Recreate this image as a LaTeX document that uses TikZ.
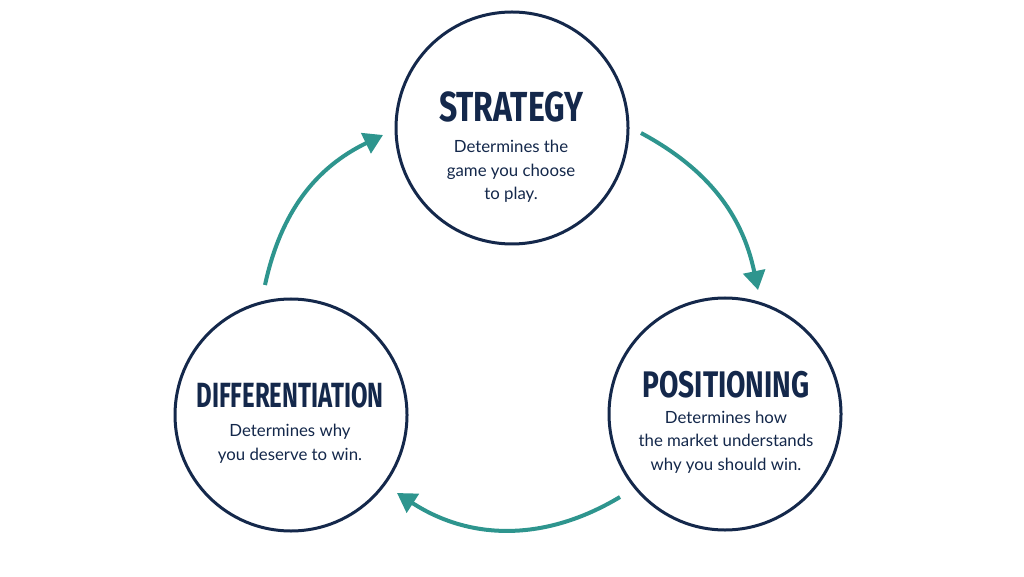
\documentclass[tikz,border=0pt]{standalone}
\usepackage{fontspec}
\setmainfont{Lato}
\newfontfamily\titlefont{Fira Sans}[FakeStretch=0.76]
\usetikzlibrary{arrows.meta,calc}

\definecolor{navy}{HTML}{14284B}
\definecolor{cycleteal}{HTML}{2E958E}

\tikzset{
    stage/.style={circle, draw=navy, line width=3pt, minimum size=232pt, inner sep=0pt},
    stagetitle/.style={text=navy, font=\titlefont\bfseries\fontsize{#1}{#1}\selectfont, anchor=base, inner sep=0pt},
    stagetitle/.default=37,
    blurb/.style={text=navy, font=\fontsize{16.8}{23.5}\selectfont, align=center, anchor=base, inner sep=0pt},
    flow/.style={draw=cycleteal, line width=4pt, -{Triangle[length=19pt,width=22pt]}}
}

\begin{document}
\begin{tikzpicture}[x=1pt, y=1pt]
        \fill[white] (0,0) rectangle (1024,576);
        \useasboundingbox (0,0) rectangle (1024,576);

        % the three stages
        \node (strat) [stage] at (512,448) {};
        \node (pos) [stage] at (725,162) {};
        \node (diff) [stage] at (291,161) {};

        % blurbs sit on the baseline of their last line
        \node (strattitle) [stagetitle=42] at (511,454) {STRATEGY};
        \node (stratblurb) [blurb] at (511,376) {Determines the\\game you choose\\to play.};

        \node (postitle) [stagetitle] at (726,179) {POSITIONING};
        \node (posblurb) [blurb] at (726,106) {Determines how\\the market understands\\why you should win.};

        \node (difftitle) [stagetitle=35] at (290,169) {\scalebox{0.9}[1]{DIFFERENTIATION}};
        \node (diffblurb) [blurb] at (290,116) {Determines why\\you deserve to win.};

        % arrow ends, just off the circles
        \coordinate (stratout) at ($(strat)+(129,-5)$);
        \coordinate (posin) at ($(pos)+(33,124)$);
        \coordinate (posout) at ($(pos)+(-105,-83)$);
        \coordinate (diffin) at ($(diff)+(106,-78)$);
        \coordinate (diffout) at ($(diff)+(-26,130)$);
        \coordinate (stratin) at ($(strat)+(-129,-7)$);

        \draw [flow] (stratout) to[bend left=25] (posin);
        \draw [flow] (posout) to[bend left=32] (diffin);
        \draw [flow] (diffout) to[bend left=26] (stratin);
    \end{tikzpicture}
\end{document}
